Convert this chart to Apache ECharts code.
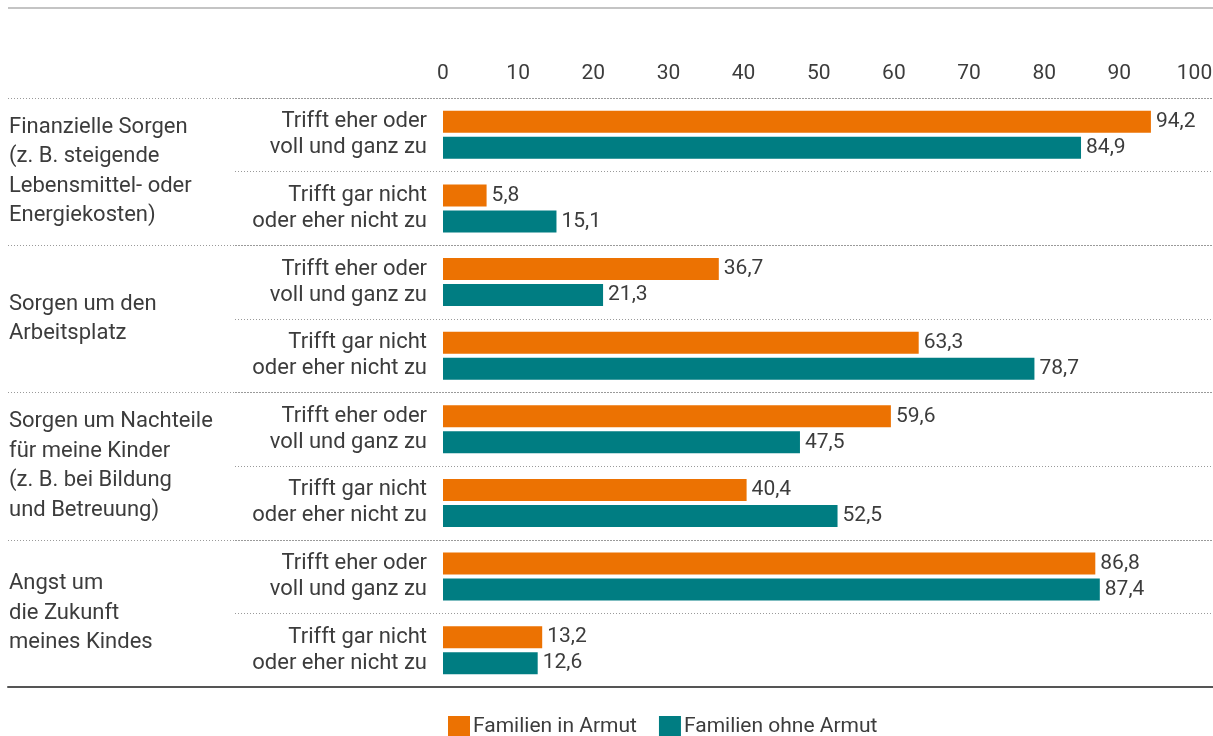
<!DOCTYPE html>
<html>
<head>
<meta charset="utf-8">
<script src="https://cdn.jsdelivr.net/npm/echarts@6/dist/echarts.min.js"></script>
<style>
  html, body { margin: 0; padding: 0; background: #fff; }
  #main { width: 1213px; height: 736px; }
</style>
</head>
<body>
<div id="main"></div>
<script>
// Daten
var gruppen = [
    'Finanzielle Sorgen\n(z. B. steigende\nLebensmittel- oder\nEnergiekosten)',
    'Sorgen um den\nArbeitsplatz',
    'Sorgen um Nachteile\nfür meine Kinder\n(z. B. bei Bildung\nund Betreuung)',
    'Angst um\ndie Zukunft\nmeines Kindes'
];
var antworten = [
    'Trifft eher oder\nvoll und ganz zu', 'Trifft gar nicht\noder eher nicht zu',
    'Trifft eher oder\nvoll und ganz zu', 'Trifft gar nicht\noder eher nicht zu',
    'Trifft eher oder\nvoll und ganz zu', 'Trifft gar nicht\noder eher nicht zu',
    'Trifft eher oder\nvoll und ganz zu', 'Trifft gar nicht\noder eher nicht zu'
];
var mitArmut = [94.2, 5.8, 36.7, 63.3, 59.6, 40.4, 86.8, 13.2];
var ohneArmut = [84.9, 15.1, 21.3, 78.7, 47.5, 52.5, 87.4, 12.6];
var xTicks = [0, 10, 20, 30, 40, 50, 60, 70, 80, 90, 100];

var schrift = 'Roboto, sans-serif';
var textFarbe = '#3c3c3c';
var punktLinie = { color: '#9a9a9a', type: [1, 2], width: 1 };

var myChart = echarts.init(document.getElementById('main'));

var option = {
    textStyle: { fontFamily: schrift, color: textFarbe },
    graphic: [
        { type: 'rect', left: 8, top: 7, shape: { width: 1205, height: 2 }, style: { fill: '#c4c4c4' } }
    ],
    legend: {
        left: 443,
        top: 711,
        itemWidth: 22,
        itemHeight: 22,
        itemGap: 22,
        icon: 'rect',
        textStyle: { fontFamily: schrift, fontSize: 21, color: textFarbe, padding: [0, 0, 0, -2] },
        data: ['Familien in Armut', 'Familien ohne Armut']
    },
    grid: [
        { left: 443, right: 18.5, top: 98, bottom: 49, outerBoundsMode: 'none' },
        { left: 8, right: 0, top: 98, bottom: 49, outerBoundsMode: 'none' },
        { left: 235, right: 0, top: 98, bottom: 49, outerBoundsMode: 'none' }
    ],
    xAxis: [
        {
            gridIndex: 0, type: 'value', position: 'top', min: 0, max: 100, interval: 10,
            axisLine: { show: false }, axisTick: { show: false }, splitLine: { show: false },
            axisLabel: {
                margin: 14, fontSize: 21, color: textFarbe, fontFamily: schrift,
                formatter: function (v) { return xTicks.indexOf(v) >= 0 ? String(v) : ''; }
            }
        },
        {
            gridIndex: 1, type: 'value', min: 0, max: 1, position: 'bottom',
            axisLine: { show: true, onZero: false, lineStyle: { color: '#555', width: 2 } },
            axisTick: { show: false }, axisLabel: { show: false }, splitLine: { show: false }
        },
        {
            gridIndex: 2, type: 'value', min: 0, max: 1, show: false
        }
    ],
    yAxis: [
        {
            gridIndex: 0, type: 'category', inverse: true, data: antworten,
            axisLine: { show: false }, axisTick: { show: false },
            axisLabel: {
                margin: 16, fontSize: 22, lineHeight: 26, align: 'right',
                color: textFarbe, fontFamily: schrift
            }
        },
        {
            gridIndex: 1, type: 'category', inverse: true, data: gruppen,
            axisLine: { show: false }, axisTick: { show: false },
            axisLabel: {
                margin: -1, fontSize: 22, lineHeight: 29.5, align: 'left',
                color: textFarbe, fontFamily: schrift
            },
            splitLine: { show: true, lineStyle: punktLinie }
        },
        {
            gridIndex: 2, type: 'category', inverse: true, data: antworten,
            axisLine: { show: false }, axisTick: { show: false }, axisLabel: { show: false },
            splitLine: { show: true, lineStyle: punktLinie }
        }
    ],
    series: [
        {
            name: 'Familien in Armut',
            type: 'bar',
            xAxisIndex: 0, yAxisIndex: 0,
            data: mitArmut,
            barWidth: 22,
            barGap: '18%',
            barCategoryGap: '35%',
            itemStyle: { color: '#ec7202' },
            label: {
                show: true, position: 'right', distance: 5, fontSize: 21,
                color: textFarbe, fontFamily: schrift,
                formatter: function (p) { return p.value.toFixed(1).replace('.', ','); }
            }
        },
        {
            name: 'Familien ohne Armut',
            type: 'bar',
            xAxisIndex: 0, yAxisIndex: 0,
            data: ohneArmut,
            barWidth: 22,
            barGap: '18%',
            barCategoryGap: '35%',
            itemStyle: { color: '#007d82' },
            label: {
                show: true, position: 'right', distance: 5, fontSize: 21,
                color: textFarbe, fontFamily: schrift,
                formatter: function (p) { return p.value.toFixed(1).replace('.', ','); }
            }
        }
    ]
};

myChart.setOption(option);
</script>
</body>
</html>
